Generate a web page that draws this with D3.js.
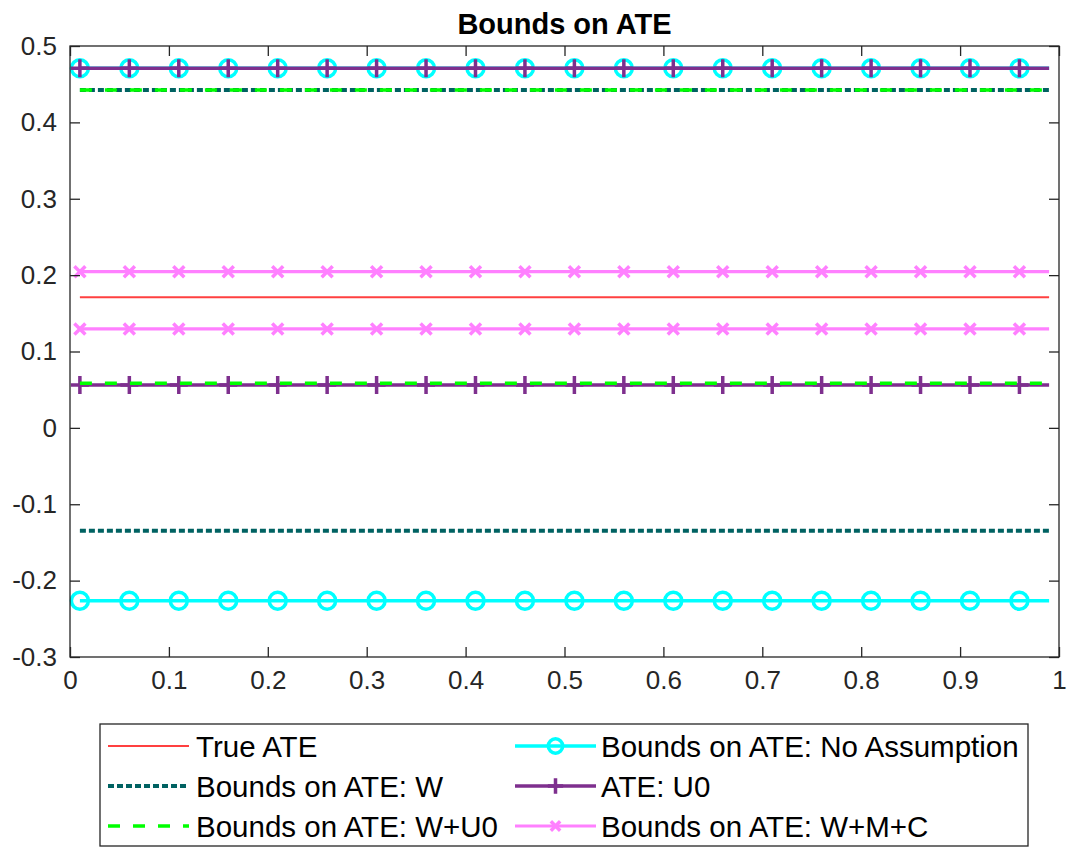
<!DOCTYPE html>
<html>
<head>
<meta charset="utf-8">
<script src="https://cdn.jsdelivr.net/npm/d3@7"></script>
<style>
  html, body { margin: 0; padding: 0; background: #fff; }
  svg { display: block; font-family: "Liberation Sans", Arial, Helvetica, sans-serif; }
</style>
</head>
<body>
<svg id="chart" width="1070" height="848"></svg>
<script>
// Sample positions along the x axis (line ends) and marker positions
const lineX = [0.01, 0.99];
const markerX = [0.01, 0.06, 0.11, 0.16, 0.21, 0.26, 0.31, 0.36, 0.41, 0.46,
                 0.51, 0.56, 0.61, 0.66, 0.71, 0.76, 0.81, 0.86, 0.91, 0.96];

// Bound values per estimate (lower, upper)
const trueATE            = [0.171];
const boundsW            = [-0.1346, 0.4425];
const boundsWU0          = [0.0584, 0.4425];
const boundsNoAssumption = [-0.2263, 0.4708];
const ateU0              = [0.0562, 0.4708];
const boundsWMC          = [0.1295, 0.2045];

const seriesNames = [
  "True ATE",
  "Bounds on ATE: W",
  "Bounds on ATE: W+U0",
  "Bounds on ATE: No Assumption",
  "ATE: U0",
  "Bounds on ATE: W+M+C"
];

const xTicks = [0, 0.1, 0.2, 0.3, 0.4, 0.5, 0.6, 0.7, 0.8, 0.9, 1];
const yTicks = [-0.3, -0.2, -0.1, 0, 0.1, 0.2, 0.3, 0.4, 0.5];

// Series styles
const styles = [
  { values: trueATE,            color: "#ff4040", width: 2,   dash: null,     marker: null },
  { values: boundsW,            color: "#006262", width: 4,   dash: "6,3",    marker: null },
  { values: boundsWU0,          color: "#00ff00", width: 3.5, dash: "12,13",  marker: null },
  { values: boundsNoAssumption, color: "#00ffff", width: 3.5, dash: null,     marker: "circle" },
  { values: ateU0,              color: "#7e2f8e", width: 3.5, dash: null,     marker: "plus" },
  { values: boundsWMC,          color: "#ff80ff", width: 3.2, dash: null,     marker: "cross" }
];
const drawOrder = [0, 1, 3, 4, 2, 5];

const svg = d3.select("#chart");
const plotL = 70, plotR = 1059, plotT = 46, plotB = 657;
const axisColor = "#262626";

const x = d3.scaleLinear().domain([0, 1]).range([plotL, plotR]);
const y = d3.scaleLinear().domain([-0.3, 0.5]).range([plotB, plotT]);

// Plot background
svg.append("rect").attr("x", plotL).attr("y", plotT)
  .attr("width", plotR - plotL).attr("height", plotB - plotT).attr("fill", "#fff");

const line = d3.line().x(d => x(d[0])).y(d => y(d[1]));

function drawMarker(g, type, cx, cy, color, scale) {
  const s = scale || 1;
  if (type === "circle") {
    g.append("circle").attr("cx", cx).attr("cy", cy).attr("r", 8.5 * s)
      .attr("fill", "none").attr("stroke", color).attr("stroke-width", 3.5);
  } else if (type === "plus") {
    const h = 9 * s;
    g.append("path").attr("d", `M${cx - h},${cy}H${cx + h}M${cx},${cy - h}V${cy + h}`)
      .attr("stroke", color).attr("stroke-width", 3.5).attr("fill", "none");
  } else if (type === "cross") {
    const h = 5.5 * s;
    g.append("path").attr("d", `M${cx - h},${cy - h}L${cx + h},${cy + h}M${cx - h},${cy + h}L${cx + h},${cy - h}`)
      .attr("stroke", color).attr("stroke-width", 3.5).attr("fill", "none");
  }
}

const plot = svg.append("g");
drawOrder.forEach(i => {
  const st = styles[i];
  st.values.forEach(v => {
    const p = plot.append("path")
      .datum(lineX.map(xx => [xx, v]))
      .attr("d", line)
      .attr("fill", "none")
      .attr("stroke", st.color)
      .attr("stroke-width", st.width);
    if (st.dash) p.attr("stroke-dasharray", st.dash);
    if (st.marker) {
      markerX.forEach(mx => drawMarker(plot, st.marker, x(mx), y(v), st.color));
    }
  });
});

// Axes: box with inward ticks on all sides
const axG = svg.append("g");
const tickLen = 10;
const bottomAxis = d3.axisBottom(x).tickValues(xTicks).tickSize(-tickLen).tickPadding(14)
  .tickFormat(d => String(d));
const leftAxis = d3.axisLeft(y).tickValues(yTicks).tickSize(-tickLen).tickPadding(13)
  .tickFormat(d => String(d));
const topAxis = d3.axisTop(x).tickValues(xTicks).tickSize(-tickLen).tickFormat("");
const rightAxis = d3.axisRight(y).tickValues(yTicks).tickSize(-tickLen).tickFormat("");

function styleAxis(g) {
  g.selectAll(".tick line").attr("stroke", axisColor).attr("stroke-width", 1.3);
  g.selectAll(".tick text").attr("fill", axisColor)
    .style("font-size", "26px").style("font-family", "'Liberation Sans', Arial, sans-serif");
}
axG.append("g").attr("transform", `translate(0,${plotB})`).call(bottomAxis).call(styleAxis);
axG.append("g").attr("transform", `translate(${plotL},0)`).call(leftAxis).call(styleAxis);
axG.append("g").attr("transform", `translate(0,${plotT})`).call(topAxis).call(styleAxis);
axG.append("g").attr("transform", `translate(${plotR},0)`).call(rightAxis).call(styleAxis);
svg.selectAll(".domain").remove();
svg.append("rect").attr("x", plotL).attr("y", plotT)
  .attr("width", plotR - plotL).attr("height", plotB - plotT)
  .attr("fill", "none").attr("stroke", axisColor).attr("stroke-width", 1.3);

// Title
svg.append("text")
  .attr("x", (plotL + plotR) / 2).attr("y", 34)
  .attr("text-anchor", "middle")
  .attr("font-weight", "bold")
  .attr("font-size", 29)
  .attr("fill", "#000")
  .text("Bounds on ATE");

// Legend (two columns, three rows)
const legend = svg.append("g");
legend.append("rect").attr("x", 100).attr("y", 724).attr("width", 928).attr("height", 122)
  .attr("fill", "#fff").attr("stroke", axisColor).attr("stroke-width", 1.3);
const rowY = [746, 786, 826];
const colX = [{ x0: 108, x1: 189, tx: 196 }, { x0: 515, x1: 596, tx: 601 }];
styles.forEach((st, i) => {
  const col = colX[Math.floor(i / 3)];
  const ry = rowY[i % 3];
  const p = legend.append("path")
    .attr("d", `M${col.x0},${ry}H${col.x1}`)
    .attr("stroke", st.color).attr("stroke-width", st.width).attr("fill", "none");
  if (st.dash) p.attr("stroke-dasharray", st.dash);
  if (st.marker) drawMarker(legend, st.marker, (col.x0 + col.x1) / 2, ry, st.color, 0.85);
  legend.append("text")
    .attr("x", col.tx).attr("y", ry + 10.5)
    .attr("font-size", 29.5)
    .attr("fill", "#000")
    .text(seriesNames[i]);
});
</script>
</body>
</html>
